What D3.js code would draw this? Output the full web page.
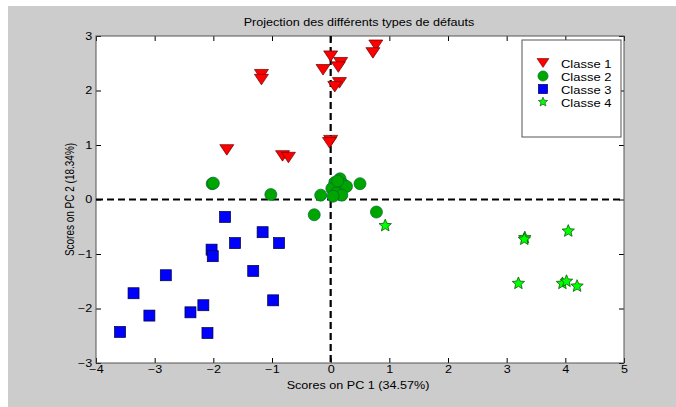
<!DOCTYPE html>
<html>
<head>
<meta charset="utf-8">
<script src="https://cdn.jsdelivr.net/npm/d3@7"></script>
<style>
  body { margin: 0; background: #fff; }
  text { font-family: "Liberation Sans", Arial, sans-serif; }
</style>
</head>
<body>
<div id="wrapper"></div>
<script>
// data: [PC1, PC2]
const classe1 = [
  [-1.18, 2.29], [-1.18, 2.20], [-1.77, 0.91], [-0.82, 0.80], [-0.72, 0.77],
  [0.00, 2.63], [-0.13, 2.38], [0.17, 2.51], [0.13, 2.43], [0.15, 2.14],
  [0.07, 2.07], [0.00, 1.08], [-0.02, 1.04], [0.77, 2.83], [0.72, 2.69]
]
const classe2 = [
  [-2.02, 0.29], [-2.00, 0.30], [-1.02, 0.09], [-0.17, 0.08], [-0.28, -0.28],
  [0.78, -0.23], [0.50, 0.29], [0.16, 0.38], [0.07, 0.31], [0.21, 0.28],
  [0.02, 0.20], [0.27, 0.24], [0.10, 0.12], [0.19, 0.08], [0.04, 0.06], [0.12, 0.34]
]
const classe3 = [
  [-1.80, -0.32], [-1.16, -0.60], [-1.63, -0.80], [-0.88, -0.80], [-2.03, -0.92],
  [-2.01, -1.04], [-1.32, -1.31], [-2.81, -1.39], [-3.36, -1.72], [-0.98, -1.85],
  [-2.17, -1.94], [-3.09, -2.13], [-2.39, -2.07], [-3.59, -2.43], [-2.10, -2.45]
]
const classe4 = [
  [0.93, -0.48], [3.31, -0.70], [3.30, -0.73], [4.05, -0.58],
  [3.20, -1.54], [3.95, -1.54], [4.02, -1.50], [4.20, -1.59]
]
const classNames = ["Classe 1", "Classe 2", "Classe 3", "Classe 4"]
const xTicks = [-4, -3, -2, -1, 0, 1, 2, 3, 4, 5]
const yTicks = [-3, -2, -1, 0, 1, 2, 3]

const width = 676
const height = 407
let dimensions = {
  width: width,
  height: height,
  margin: { top: 36, right: 52, bottom: 44, left: 96 },
}
dimensions.boundedWidth = dimensions.width - dimensions.margin.left - dimensions.margin.right
dimensions.boundedHeight = dimensions.height - dimensions.margin.top - dimensions.margin.bottom

// the figure looks stretched sideways, so text gets a horizontal scale
const SX = 1.26
const FONT = "10px"

const svg = d3.select("#wrapper")
  .append("svg")
    .attr("width", dimensions.width)
    .attr("height", dimensions.height)

// grey figure background
svg.append("rect")
    .attr("x", 8).attr("y", 6)
    .attr("width", width - 8).attr("height", height - 6)
    .attr("fill", "#cccccc")

const bounds = svg.append("g")
    .attr("transform", `translate(${dimensions.margin.left},${dimensions.margin.top})`)

const xScale = d3.scaleLinear()
  .domain([-4, 5])
  .range([0, dimensions.boundedWidth])
const yScale = d3.scaleLinear()
  .domain([-3, 3])
  .range([dimensions.boundedHeight, 0])

bounds.append("rect")
    .attr("width", dimensions.boundedWidth)
    .attr("height", dimensions.boundedHeight)
    .attr("fill", "#fff")

// axes, ticks pointing inwards like matlab
const styleAxis = g => {
  g.select(".domain").remove()
  g.selectAll("line").attr("stroke", "#000")
  g.selectAll("text")
    .attr("fill", "#000")
    .attr("transform", `scale(${SX},1)`)
    .style("font-size", FONT)
}
bounds.append("g")
    .attr("transform", `translate(0,${dimensions.boundedHeight})`)
    .call(d3.axisBottom(xScale).tickValues(xTicks).tickSizeInner(-5).tickSizeOuter(0).tickPadding(3).tickFormat(d3.format("d")))
    .call(styleAxis)
bounds.append("g")
    .call(d3.axisTop(xScale).tickValues(xTicks).tickSizeInner(-5).tickSizeOuter(0).tickFormat(""))
    .call(styleAxis)
bounds.append("g")
    .call(d3.axisLeft(yScale).tickValues(yTicks).tickSizeInner(-5).tickSizeOuter(0).tickPadding(3).tickFormat(d3.format("d")))
    .call(styleAxis)
bounds.append("g")
    .attr("transform", `translate(${dimensions.boundedWidth},0)`)
    .call(d3.axisRight(yScale).tickValues(yTicks).tickSizeInner(-5).tickSizeOuter(0).tickFormat(""))
    .call(styleAxis)

bounds.append("rect")
    .attr("width", dimensions.boundedWidth)
    .attr("height", dimensions.boundedHeight)
    .attr("fill", "none")
    .attr("stroke", "#555")
    .attr("stroke-width", 1)

// dashed zero lines
bounds.append("line")
    .attr("x1", xScale(0)).attr("x2", xScale(0))
    .attr("y1", 0).attr("y2", dimensions.boundedHeight)
    .attr("stroke", "#000").attr("stroke-width", 2.2).attr("stroke-dasharray", "7,4")
bounds.append("line")
    .attr("x1", 0).attr("x2", dimensions.boundedWidth)
    .attr("y1", yScale(0)).attr("y2", yScale(0))
    .attr("stroke", "#000").attr("stroke-width", 2.2).attr("stroke-dasharray", "7,4")

// marker shapes
const triPath = s => `M${-s},${-s * 0.75}L${s},${-s * 0.75}L0,${s * 0.75}Z`
const starPath = r => {
  let pts = []
  for (let i = 0; i < 10; i++) {
    const a = -Math.PI / 2 + i * Math.PI / 5
    const rr = i % 2 === 0 ? r : r * 0.45
    pts.push([rr * Math.cos(a), rr * Math.sin(a)])
  }
  return "M" + pts.map(p => p.join(",")).join("L") + "Z"
}
const series = [
  { data: classe1, draw: (g, k) => g.append("path").attr("d", triPath(7 * k)).attr("fill", "#ff0000").attr("stroke", "#600") },
  { data: classe2, draw: (g, k) => g.append("circle").attr("r", 6 * k).attr("fill", "#00a600").attr("stroke", "#063") },
  { data: classe3, draw: (g, k) => g.append("rect").attr("x", -5.5 * k).attr("y", -5.5 * k).attr("width", 11 * k).attr("height", 11 * k).attr("fill", "#0000ff").attr("stroke", "#003") },
  { data: classe4, draw: (g, k) => g.append("path").attr("d", starPath(6.5 * k)).attr("fill", "#00ff00").attr("stroke", "#040") },
]

series.forEach(s => {
  s.data.forEach(d => {
    const g = bounds.append("g")
        .attr("transform", `translate(${xScale(d[0])},${yScale(d[1])})`)
    s.draw(g, 1)
    g.selectAll("*").attr("stroke-width", 0.7)
  })
})

// legend
const legend = svg.append("g").attr("transform", "translate(522,40)")
legend.append("rect")
    .attr("width", 99).attr("height", 97)
    .attr("fill", "#fff").attr("stroke", "#555")
classNames.forEach((name, i) => {
  const row = legend.append("g").attr("transform", `translate(21,${23 + i * 13})`)
  series[i].draw(row, i === 3 ? 0.75 : 0.85)
  row.selectAll("*").attr("stroke-width", 0.6)
  row.append("text")
      .attr("transform", `translate(18,4.5) scale(${SX},1)`)
      .style("font-size", "10.3px")
      .attr("fill", "#000")
      .text(name)
})

// titles
const addText = (x, y, rot, label) => svg.append("text")
    .attr("transform", `translate(${x},${y}) scale(${SX},1)${rot ? " rotate(-90)" : ""}`)
    .attr("text-anchor", "middle")
    .style("font-size", FONT)
    .attr("fill", "#000")
    .text(label)

addText(dimensions.margin.left + dimensions.boundedWidth / 2 - 1, 26, false, "Projection des différents types de défauts")
addText(dimensions.margin.left + dimensions.boundedWidth / 2 - 2, 389, false, "Scores on PC 1 (34.57%)")
addText(74, dimensions.margin.top + dimensions.boundedHeight / 2, true, "Scores on PC 2 (18.34%)")
</script>
</body>
</html>
